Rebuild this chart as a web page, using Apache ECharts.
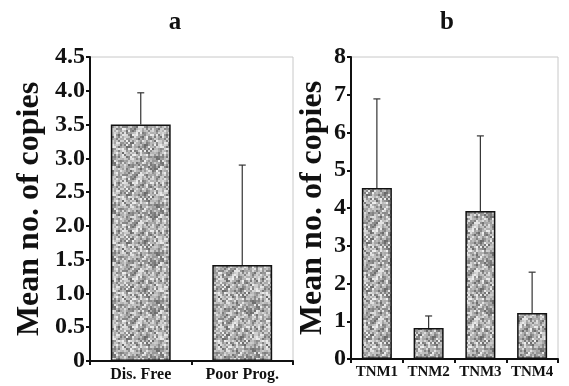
<!DOCTYPE html>
<html>
<head>
<meta charset="utf-8">
<script src="https://cdn.jsdelivr.net/npm/echarts@6/dist/echarts.min.js"></script>
<style>
  html, body { margin: 0; padding: 0; background: #fff; }
  #chart { width: 569px; height: 386px; }
</style>
</head>
<body>
<div id="chart"></div>
<script>
// Panel a data
var catsA = ['Dis. Free', 'Poor Prog.'];
var meanA = [3.5, 1.42];
var errTopA = [3.97, 2.9];

// Panel b data
var catsB = ['TNM1', 'TNM2', 'TNM3', 'TNM4'];
var meanB = [4.53, 0.82, 3.92, 1.22];
var errTopB = [6.89, 1.14, 5.91, 2.3];

var serif = '"Liberation Serif", "DejaVu Serif", serif';

// speckled grey fill for the bars (fixed hash, not data)
var makeTexture = function() {
    var size = 48, cell = 2;
    var c = document.createElement('canvas');
    c.width = size; c.height = size;
    var ctx = c.getContext('2d');
    for (var y = 0; y < size; y += cell) {
        for (var x = 0; x < size; x += cell) {
            var h = Math.sin(x * 12.9898 + y * 78.233) * 43758.5453;
            h = h - Math.floor(h);
            var g = Math.round(105 + h * 135);
            ctx.fillStyle = 'rgb(' + g + ',' + g + ',' + g + ')';
            ctx.fillRect(x, y, cell, cell);
        }
    }
    return c;
};
var texture = makeTexture();

var pairs = function(means, tops) {
    return means.map(function(m, i) { return [i, m, tops[i]]; });
};

var errorBar = function(params, api) {
    var lo = api.coord([api.value(0), api.value(1)]);
    var hi = api.coord([api.value(0), api.value(2)]);
    var cap = 3.5;
    return {
        type: 'group',
        children: [
            { type: 'line', shape: { x1: lo[0], y1: lo[1], x2: hi[0], y2: hi[1] },
              style: { stroke: '#333', lineWidth: 1.2 } },
            { type: 'line', shape: { x1: hi[0] - cap, y1: hi[1], x2: hi[0] + cap, y2: hi[1] },
              style: { stroke: '#333', lineWidth: 1.2 } }
        ]
    };
};

var xAxisCommon = {
    type: 'category',
    axisLine: { lineStyle: { color: '#111', width: 2 } },
    axisTick: { show: true, length: 4, lineStyle: { color: '#111', width: 2 } },
    axisLabel: { color: '#111', fontFamily: serif, fontWeight: 'bold', fontSize: 15, margin: 6, interval: 0 }
};
var yAxisCommon = {
    type: 'value',
    nameLocation: 'middle',
    nameRotate: 90,
    nameTextStyle: { color: '#111', fontFamily: serif, fontWeight: 'bold', fontSize: 32 },
    axisLine: { show: true, lineStyle: { color: '#111', width: 2 } },
    axisTick: { show: true, length: 4, lineStyle: { color: '#111', width: 2 } },
    axisLabel: { color: '#111', fontFamily: serif, fontWeight: 'bold', fontSize: 24, margin: 5 },
    splitLine: { show: false }
};

var chart = echarts.init(document.getElementById('chart'));

var options = {
    animation: false,
    title: [
        { text: 'a', left: 170, top: 5, textAlign: 'center',
          textStyle: { fontFamily: serif, fontWeight: 'bold', fontSize: 25, color: '#111' } },
        { text: 'b', left: 442, top: 5, textAlign: 'center',
          textStyle: { fontFamily: serif, fontWeight: 'bold', fontSize: 25, color: '#111' } }
    ],
    grid: [
        { left: 90, top: 57, width: 203, height: 304, show: true, borderColor: '#c8c8c8', borderWidth: 1 },
        { left: 351, top: 57, width: 207, height: 302, show: true, borderColor: '#c8c8c8', borderWidth: 1 }
    ],
    xAxis: [
        Object.assign({}, xAxisCommon, {
            gridIndex: 0, data: catsA,
            axisLabel: Object.assign({}, xAxisCommon.axisLabel, { fontSize: 16 })
        }),
        Object.assign({}, xAxisCommon, { gridIndex: 1, data: catsB })
    ],
    yAxis: [
        Object.assign({}, yAxisCommon, {
            gridIndex: 0, min: 0, max: 4.5, interval: 0.5,
            name: 'Mean no. of copies', nameGap: 44,
            axisLabel: Object.assign({}, yAxisCommon.axisLabel, {
                formatter: function(v) { return v === 0 ? '0' : v.toFixed(1); }
            })
        }),
        Object.assign({}, yAxisCommon, {
            gridIndex: 1, min: 0, max: 8, interval: 1,
            name: 'Mean no. of copies', nameGap: 22
        })
    ],
    series: [
        {
            type: 'bar', xAxisIndex: 0, yAxisIndex: 0, data: meanA, barWidth: '59%',
            itemStyle: { color: { image: texture, repeat: 'repeat' }, borderColor: '#111', borderWidth: 1.5 }
        },
        {
            type: 'bar', xAxisIndex: 1, yAxisIndex: 1, data: meanB, barWidth: '58%',
            itemStyle: { color: { image: texture, repeat: 'repeat' }, borderColor: '#111', borderWidth: 1.5 }
        },
        {
            type: 'custom', xAxisIndex: 0, yAxisIndex: 0, renderItem: errorBar,
            encode: { x: 0, y: [1, 2] }, data: pairs(meanA, errTopA), z: 1
        },
        {
            type: 'custom', xAxisIndex: 1, yAxisIndex: 1, renderItem: errorBar,
            encode: { x: 0, y: [1, 2] }, data: pairs(meanB, errTopB), z: 1
        }
    ]
};

chart.setOption(options);
</script>
</body>
</html>
